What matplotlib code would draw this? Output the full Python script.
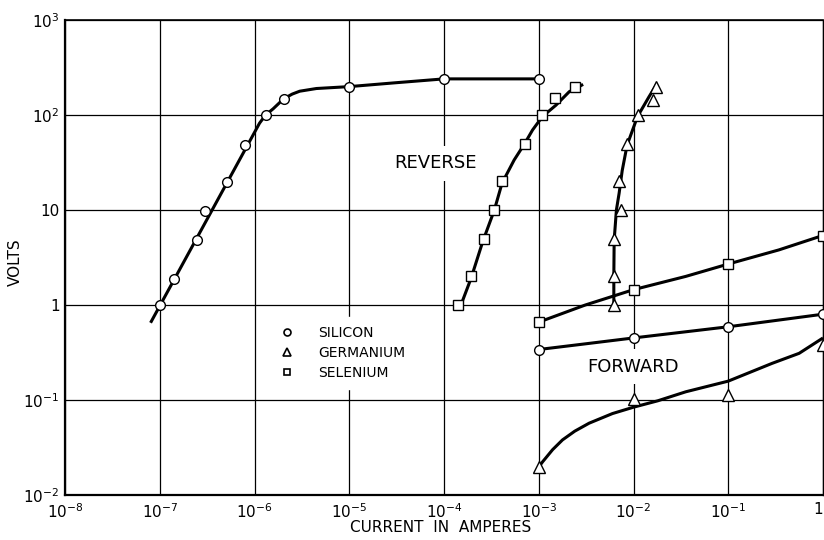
import matplotlib
matplotlib.use("Agg")
import matplotlib.pyplot as plt
from matplotlib.lines import Line2D

plt.rcParams['font.family'] = ['DejaVu Sans']
plt.rcParams['mathtext.default'] = 'regular'

# reverse characteristics: measured points
si_rev_i = [1.0e-7, 1.4e-7, 2.45e-7, 3.0e-7, 5.1e-7, 7.9e-7, 1.31e-6, 2.03e-6, 1.0e-5, 1.0e-4, 1.0e-3]
si_rev_v = [1.0, 1.9, 4.8, 9.8, 19.5, 48, 100, 148, 198, 240, 240]
se_rev_i = [1.42e-4, 1.95e-4, 2.67e-4, 3.4e-4, 4.1e-4, 7.2e-4, 1.09e-3, 1.49e-3, 2.43e-3]
se_rev_v = [1.0, 2.0, 5.0, 10, 20, 50, 100, 150, 195]
ge_rev_i = [6.25e-3, 6.25e-3, 6.25e-3, 7.3e-3, 7.05e-3, 8.5e-3, 1.12e-2, 1.6e-2, 1.73e-2]
ge_rev_v = [1.0, 2.0, 5.0, 10, 20, 50, 100, 145, 195]

# forward characteristics: measured points
si_fwd_i = [1e-3, 1e-2, 1e-1, 1.0]
si_fwd_v = [0.34, 0.45, 0.59, 0.80]
se_fwd_i = [1e-3, 1e-2, 1e-1, 1.0]
se_fwd_v = [0.66, 1.45, 2.7, 5.3]
ge_fwd_i = [1e-3, 1e-2, 1e-1, 1.0]
ge_fwd_v = [0.0197, 0.102, 0.113, 0.38]

# faired curves
si_rev_curve_i = [8.0e-8, 1.13e-6, 1.31e-6, 1.57e-6, 2.03e-6, 2.5e-6, 3.0e-6, 4.5e-6, 1.0e-5, 3.0e-5, 1.0e-4, 1.0e-3]
si_rev_curve_v = [0.65, 82, 100, 116, 148, 166, 178, 190, 199, 218, 240, 240]
se_rev_curve_i = [1.51e-4, 1.93e-4, 2.56e-4, 3.4e-4, 4.1e-4, 5.5e-4, 7.1e-4, 8.6e-4, 1.09e-3, 1.52e-3, 2.1e-3, 2.94e-3]
se_rev_curve_v = [1.0, 1.91, 4.63, 10, 19.2, 33.6, 50, 69.5, 96, 127, 176, 210]
ge_rev_curve_i = [6.2e-3, 6.2e-3, 6.25e-3, 6.6e-3, 7.05e-3, 7.6e-3, 8.55e-3, 1.1e-2, 1.46e-2, 1.74e-2]
ge_rev_curve_v = [1.0, 2.0, 4.8, 10, 15, 26, 48, 96, 156, 207]
si_fwd_curve_i = [1e-3, 3.1e-3, 1e-2, 1e-1, 1.0]
si_fwd_curve_v = [0.34, 0.39, 0.45, 0.59, 0.80]
se_fwd_curve_i = [1e-3, 3.1e-3, 1e-2, 3.56e-2, 1e-1, 0.342, 1.0]
se_fwd_curve_v = [0.66, 1.0, 1.45, 2.0, 2.7, 3.8, 5.4]
ge_fwd_curve_i = [1.0e-3, 1.1e-3, 1.4e-3, 1.78e-3, 2.4e-3, 3.4e-3, 6.0e-3, 1.0e-2, 1.8e-2,
                  3.56e-2, 0.1, 0.29, 0.56, 1.0]
ge_fwd_curve_v = [0.0197, 0.0224, 0.030, 0.038, 0.047, 0.057, 0.072, 0.084, 0.098,
                  0.122, 0.158, 0.243, 0.31, 0.45]

x_ticks = [1e-8, 1e-7, 1e-6, 1e-5, 1e-4, 1e-3, 1e-2, 1e-1, 1.0]
x_labels = [r'$10^{-8}$', r'$10^{-7}$', r'$10^{-6}$', r'$10^{-5}$', r'$10^{-4}$',
            r'$10^{-3}$', r'$10^{-2}$', r'$10^{-1}$', '1']
y_ticks = [1e-2, 1e-1, 1.0, 10, 1e2, 1e3]
y_labels = [r'$10^{-2}$', r'$10^{-1}$', '1', '10', r'$10^{2}$', r'$10^{3}$']

fig = plt.figure(figsize=(8.24, 5.40), dpi=100)
ax = fig.add_axes([65/824, 45/540, 758/824, 475/540])
ax.set_xscale('log')
ax.set_yscale('log')
ax.set_xlim(1e-8, 1.0)
ax.set_ylim(1e-2, 1e3)

ax.set_axisbelow(True)
ax.grid(True, which='major', color='black', lw=0.9)
ax.minorticks_off()
ax.set_xticks(x_ticks)
ax.set_xticklabels(x_labels)
ax.set_yticks(y_ticks)
ax.set_yticklabels(y_labels)
ax.tick_params(length=0, labelsize=11, pad=5)
ax.tick_params(axis='y', pad=4)
# last label sits at the right edge of the sheet
ax.get_xticklabels()[-1].set_horizontalalignment('right')
for side in ['left', 'bottom']:
    ax.spines[side].set_linewidth(1.6)
ax.spines['top'].set_linewidth(1.2)
ax.spines['right'].set_linewidth(1.0)

line_kw = dict(color='black', lw=2.2, zorder=2, solid_capstyle='butt')
for ci, cv in [(si_rev_curve_i, si_rev_curve_v), (se_rev_curve_i, se_rev_curve_v),
               (ge_rev_curve_i, ge_rev_curve_v), (si_fwd_curve_i, si_fwd_curve_v),
               (se_fwd_curve_i, se_fwd_curve_v), (ge_fwd_curve_i, ge_fwd_curve_v)]:
    ax.plot(ci, cv, **line_kw)

mk_kw = dict(ls='none', mfc='white', mec='black', mew=1.0, zorder=3)
ax.plot(si_rev_i, si_rev_v, marker='o', ms=7, **mk_kw)
ax.plot(si_fwd_i, si_fwd_v, marker='o', ms=7, **mk_kw)
ax.plot(se_rev_i, se_rev_v, marker='s', ms=6.5, **mk_kw)
ax.plot(se_fwd_i, se_fwd_v, marker='s', ms=6.5, **mk_kw)
ax.plot(ge_rev_i, ge_rev_v, marker='^', ms=8, **mk_kw)
ax.plot(ge_fwd_i, ge_fwd_v, marker='^', ms=8, **mk_kw)

box = dict(facecolor='white', edgecolor='none', pad=6)
ax.text(8.1e-5, 31, 'REVERSE', fontsize=13, ha='center', va='center', bbox=box, zorder=1)
ax.text(9.8e-3, 0.224, 'FORWARD', fontsize=13, ha='center', va='center', bbox=box, zorder=1)

handles = [Line2D([], [], ls='none', marker='o', ms=5, mfc='white', mec='black', mew=1.2),
           Line2D([], [], ls='none', marker='^', ms=6, mfc='white', mec='black', mew=1.2),
           Line2D([], [], ls='none', marker='s', ms=5, mfc='white', mec='black', mew=1.2)]
leg = ax.legend(handles, ['SILICON', 'GERMANIUM', 'SELENIUM'], loc='center',
                bbox_to_anchor=(0.366, 0.299), fontsize=10, frameon=True,
                fancybox=False, edgecolor='white', framealpha=1.0,
                handlelength=1.0, handletextpad=1.75, labelspacing=0.45, borderpad=0.6)
leg.set_zorder(1)

ax.set_xlabel('CURRENT  IN  AMPERES', fontsize=11, va='center')
ax.xaxis.set_label_coords(0.495, -0.068)
ax.set_ylabel('VOLTS', fontsize=11, va='center')
ax.yaxis.set_label_coords(-0.066, 0.491)

fig.savefig('out.png', dpi=100)
